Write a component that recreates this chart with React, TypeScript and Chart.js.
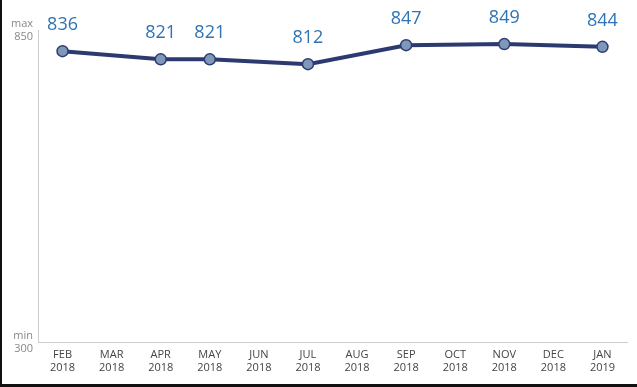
import React, { useEffect, useRef } from "react";
import { Chart, registerables } from "chart.js";

Chart.register(...registerables);

const categories: string[][] = [
  ["FEB", "2018"], ["MAR", "2018"], ["APR", "2018"], ["MAY", "2018"],
  ["JUN", "2018"], ["JUL", "2018"], ["AUG", "2018"], ["SEP", "2018"],
  ["OCT", "2018"], ["NOV", "2018"], ["DEC", "2018"], ["JAN", "2019"],
];
const scores: (number | null)[] = [836, null, 821, 821, null, 812, null, 847, null, 849, null, 844];
const yMin = 300;
const yMaxLabel = 850;
const yTickLabels: string[][] = [["min", String(yMin)], ["max", String(yMaxLabel)]];

const dataLabelPlugin = {
  id: "dataLabels",
  afterDatasetsDraw(chart: any) {
    const ctx = chart.ctx;
    const meta = chart.getDatasetMeta(0);
    ctx.save();
    ctx.font = "18px 'Open Sans'";
    ctx.fillStyle = "#2e74b5";
    ctx.textAlign = "center";
    ctx.textBaseline = "alphabetic";
    meta.data.forEach((pt: any, i: number) => {
      const v = scores[i];
      if (v == null) return;
      ctx.fillText(String(v), pt.x, pt.y - 21);
    });
    ctx.restore();
  },
};

export default function App() {
  const ref = useRef<HTMLCanvasElement>(null);
  useEffect(() => {
    document.body.style.margin = "0";
    const chart = new Chart(ref.current!, {
      type: "line",
      data: {
        labels: categories,
        datasets: [
          {
            data: scores,
            spanGaps: true,
            borderColor: "#2c3a70",
            borderWidth: 4,
            pointRadius: 5.5,
            pointBackgroundColor: "#7f97b9",
            pointBorderColor: "#2d3d72",
            pointBorderWidth: 1.5,
            tension: 0,
          },
        ],
      },
      options: {
        animation: false,
        responsive: false,
        maintainAspectRatio: false,
        layout: { padding: { top: 30, right: 10, left: 0, bottom: 0 } },
        plugins: { legend: { display: false }, tooltip: { enabled: false } },
        scales: {
          x: {
            offset: true,
            grid: { display: false, drawTicks: false },
            border: { display: true, color: "#cccccc", width: 1 },
            ticks: {
              color: "#444444",
              font: { family: "'Open Sans'", size: 11 },
              padding: 6,
              maxRotation: 0,
              autoSkip: false,
            },
            afterFit(scale: any) {
              scale.height = 45;
            },
          },
          y: {
            min: yMin,
            max: 875,
            grid: { display: false, drawTicks: false },
            border: { display: true, color: "#cccccc", width: 1 },
            afterBuildTicks(scale: any) {
              scale.ticks = [{ value: 300 }, { value: 875 }];
            },
            ticks: {
              color: "#888888",
              font: { family: "'Open Sans'", size: 11 },
              padding: 5,
              callback: (_v: any, i: number) => yTickLabels[i],
            },
            afterFit(scale: any) {
              scale.width = 38;
            },
          },
        },
      },
      plugins: [dataLabelPlugin],
    });
    return () => chart.destroy();
  }, []);
  return (
    <div style={{ position: "relative", width: 637, height: 387, background: "#fff" }}>
      <canvas ref={ref} width={637} height={387} style={{ display: "block" }} />
      <div
        style={{
          position: "absolute",
          left: 0,
          top: 0,
          width: 637,
          height: 387,
          boxSizing: "border-box",
          borderLeft: "2px solid #111",
          borderBottom: "3px solid #111",
          pointerEvents: "none",
        }}
      />
    </div>
  );
}
